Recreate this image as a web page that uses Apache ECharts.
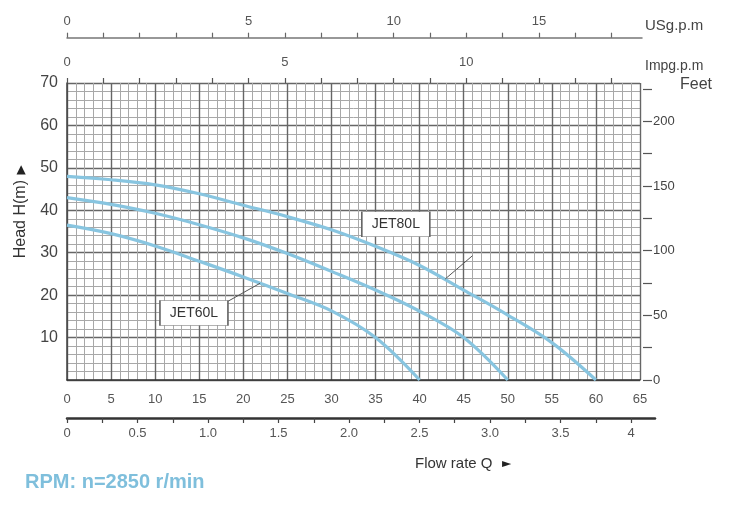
<!DOCTYPE html>
<html><head><meta charset="utf-8">
<script src="https://cdn.jsdelivr.net/npm/echarts@6/dist/echarts.min.js"></script>
<style>html,body{margin:0;padding:0;background:#fff}#c{width:750px;height:507px}</style>
</head><body><div id="c"></div>
<script>
// ---- data (flow in L/min, head in m) ----
const qJet60 = [0, 5, 10, 15, 20, 25, 30, 35, 40];
const hJet60 = [36.5, 34.5, 31.6, 28, 24.3, 20.4, 16.3, 10, 0];
const qJet70 = [0, 5, 10, 15, 20, 25, 30, 35, 40, 45, 50];
const hJet70 = [43, 41.4, 39.3, 36.6, 33.5, 29.8, 25.6, 21.2, 16.2, 10, 0];
const qJet80 = [0, 5, 10, 15, 20, 25, 30, 35, 40, 45, 50, 55, 60];
const hJet80 = [48, 47.2, 46, 43.9, 41.2, 38.5, 35.4, 31.5, 27, 21.2, 15.3, 8.8, 0];
const curveLabels = ['JET60L', 'JET80L'];
const labelAnchors = [[14.4, 15.8], [37.3, 36.7]];
const leaderJet60 = [[18.3, 18.6], [21.9, 22.8]];
const leaderJet80 = [[42.9, 23.8], [46.0, 29.3]];

// ---- tick labels ----
const usgpmTicks = [0,1,2,3,4,5,6,7,8,9,10,11,12,13,14,15];
const usgpmLabels = ['0','','','','','5','','','','10','','','','15','',''];
const impgTicks = [0,1,2,3,4,5,6,7,8,9,10,11,12,13,14,15];
const impgLabels = ['0','','','','','','5','','','','','10','','','',''];
const m3hTicks = [0,0.25,0.5,0.75,1,1.25,1.5,1.75,2,2.25,2.5,2.75,3,3.25,3.5,3.75,4];
const m3hLabels = [0,0.5,1,1.5,2,2.5,3,3.5,4];
const feetTicks = [0,25,50,75,100,125,150,175,200,225];
const feetLabels = [0,50,100,150,200];

const FF = 'Liberation Sans, Arial, sans-serif';
const zip = (a, b) => a.map((v, i) => [v, b[i]]);
const curveStyle = {color: '#88c5e0', width: 3.2};

const chart = echarts.init(document.getElementById('c'));
chart.setOption({
  animation: false,
  backgroundColor: '#fff',
  grid: [
    {left: 67, top: 83, width: 573, height: 297},
    {left: 67, top: 380, width: 588, height: 38},
    {left: 67, top: 37.7, width: 575, height: 30}
  ],
  xAxis: [
    { // L/min
      gridIndex: 0, type: 'value', position: 'bottom', min: 0, max: 65, interval: 5,
      axisLine: {show: true, onZero: false, lineStyle: {color: '#333', width: 1.5}},
      axisTick: {show: false},
      axisLabel: {margin: 13, fontSize: 13, color: '#555', fontFamily: FF},
      splitLine: {show: true, lineStyle: {color: '#666', width: 1.4}},
      minorTick: {show: false, splitNumber: 5},
      minorSplitLine: {show: true, lineStyle: {color: '#a8a8a8', width: 1}}
    },
    { // Impg.p.m
      gridIndex: 0, type: 'value', position: 'top', min: 0, max: 573 / 36.3,
      axisLine: {show: false, onZero: false},
      axisTick: {show: true, customValues: impgTicks, length: 5, lineStyle: {color: '#555', width: 1.2}},
      axisLabel: {customValues: impgTicks, margin: 14, fontSize: 13, color: '#555', fontFamily: FF,
        formatter: v => impgLabels[Math.round(v)] || ''},
      splitLine: {show: false}
    },
    { // m3/h
      gridIndex: 1, type: 'value', position: 'bottom', min: 0, max: 588 / 141,
      axisLine: {show: true, onZero: false, lineStyle: {color: '#333', width: 2.5}},
      axisTick: {show: true, customValues: m3hTicks, length: 5, lineStyle: {color: '#444', width: 1.2}},
      axisLabel: {customValues: m3hLabels, margin: 9, fontSize: 13, color: '#555', fontFamily: FF,
        formatter: v => (v === 0 || v === 4) ? String(v) : v.toFixed(1)},
      splitLine: {show: false}
    },
    { // USg.p.m
      gridIndex: 2, type: 'value', position: 'top', min: 0, max: 575 / 36.3,
      axisLine: {show: true, onZero: false, lineStyle: {color: '#777', width: 1.5}},
      axisTick: {show: true, customValues: usgpmTicks, length: 5, lineStyle: {color: '#666', width: 1.2}},
      axisLabel: {customValues: usgpmTicks, margin: 10, fontSize: 13, color: '#555', fontFamily: FF,
        formatter: v => usgpmLabels[Math.round(v)] || ''},
      splitLine: {show: false}
    }
  ],
  yAxis: [
    { // m
      gridIndex: 0, type: 'value', min: 0, max: 70, interval: 10,
      axisLine: {show: true, onZero: false, lineStyle: {color: '#444', width: 1.5}},
      axisTick: {show: false},
      axisLabel: {margin: 9, fontSize: 16, color: '#444', fontFamily: FF,
        formatter: v => v === 0 ? '' : String(v)},
      splitLine: {show: true, lineStyle: {color: '#666', width: 1.4}},
      minorTick: {show: false, splitNumber: 5},
      minorSplitLine: {show: true, lineStyle: {color: '#a8a8a8', width: 1}}
    },
    { // Feet
      gridIndex: 0, type: 'value', position: 'right', offset: 3, min: 0, max: 70 * 3.28084,
      axisLine: {show: false, onZero: false},
      axisTick: {show: true, customValues: feetTicks, length: 9, lineStyle: {color: '#555', width: 1.2}},
      axisLabel: {customValues: feetLabels, margin: 10, fontSize: 13, color: '#444', fontFamily: FF},
      splitLine: {show: false}
    },
    {gridIndex: 1, type: 'value', show: false, min: 0, max: 1},
    {gridIndex: 2, type: 'value', show: false, min: 0, max: 1}
  ],
  series: [
    {type: 'line', xAxisIndex: 0, yAxisIndex: 0, data: zip(qJet60, hJet60), smooth: 0.35,
      symbol: 'none', lineStyle: curveStyle, z: 5},
    {type: 'line', xAxisIndex: 0, yAxisIndex: 0, data: zip(qJet70, hJet70), smooth: 0.35,
      symbol: 'none', lineStyle: curveStyle, z: 5},
    {type: 'line', xAxisIndex: 0, yAxisIndex: 0, data: zip(qJet80, hJet80), smooth: 0.35,
      symbol: 'none', lineStyle: curveStyle, z: 5},
    {type: 'line', xAxisIndex: 0, yAxisIndex: 0, data: leaderJet60, symbol: 'none',
      lineStyle: {color: '#555', width: 1}, z: 6,
      markPoint: {symbol: 'rect', symbolSize: [68, 25], silent: true,
        itemStyle: {color: '#fff', borderColor: '#666', borderWidth: 1},
        label: {show: true, formatter: curveLabels[0], color: '#333', fontSize: 14, fontFamily: FF},
        data: [{coord: labelAnchors[0]}]}},
    {type: 'line', xAxisIndex: 0, yAxisIndex: 0, data: leaderJet80, symbol: 'none',
      lineStyle: {color: '#555', width: 1}, z: 6,
      markPoint: {symbol: 'rect', symbolSize: [68, 25], silent: true,
        itemStyle: {color: '#fff', borderColor: '#666', borderWidth: 1},
        label: {show: true, formatter: curveLabels[1], color: '#333', fontSize: 14, fontFamily: FF},
        data: [{coord: labelAnchors[1]}]}}
  ],
  graphic: [
    {type: 'text', left: 645, top: 18, style: {text: 'USg.p.m', fontSize: 15, fill: '#444', fontFamily: FF}},
    {type: 'text', left: 645, top: 59, style: {text: 'Impg.p.m', fontSize: 14, fill: '#444', fontFamily: FF}},
    {type: 'text', left: 680, top: 77, style: {text: 'Feet', fontSize: 16, fill: '#444', fontFamily: FF}},
    {type: 'text', left: 415, top: 456, style: {text: 'Flow rate Q', fontSize: 15, fill: '#333', fontFamily: FF}},
    {type: 'text', left: 502, top: 458, style: {text: '\u25BA', fontSize: 12, fill: '#222', fontFamily: 'DejaVu Sans'}},
    {type: 'text', x: 21, y: 180, rotation: Math.PI / 2,
      style: {text: 'Head H(m)', fontSize: 16, fill: '#333', fontFamily: FF, align: 'right', verticalAlign: 'middle'}},
    {type: 'text', x: 21, y: 170, style: {text: '\u25B2', fontSize: 12, fill: '#222', fontFamily: 'DejaVu Sans', align: 'center', verticalAlign: 'middle'}},
    {type: 'text', left: 25, top: 472, style: {text: 'RPM: n=2850 r/min', fontSize: 20, fontWeight: 'bold', fill: '#7fbfdc', fontFamily: FF}}
  ]
});
</script></body></html>
